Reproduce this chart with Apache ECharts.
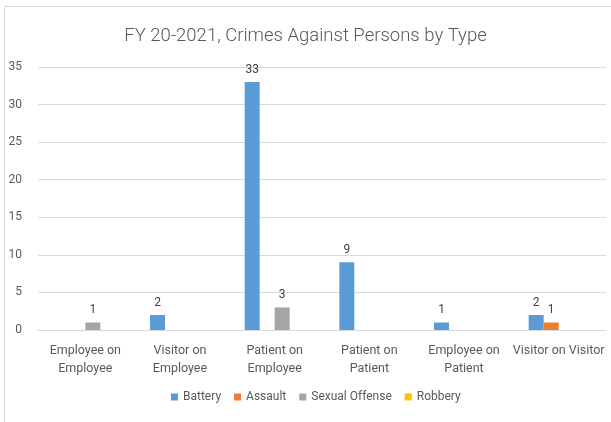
<!DOCTYPE html>
<html><head><meta charset="utf-8">
<script src="https://cdn.jsdelivr.net/npm/echarts@6/dist/echarts.min.js"></script>
<style>html,body{margin:0;padding:0;background:#fff}#c{width:611px;height:422px}</style>
</head><body><div id="c"></div>
<script>
const categories = ["Employee on\nEmployee", "Visitor on\nEmployee", "Patient on\nEmployee", "Patient on\nPatient", "Employee on\nPatient", "Visitor on Visitor"];
const seriesNames = ["Battery", "Assault", "Sexual Offense", "Robbery"];
const battery = [null, 2, 33, 9, 1, 2];
const assault = [null, null, null, null, null, 1];
const sexualOffense = [1, null, 3, null, null, null];
const robbery = [null, null, null, null, null, null];
const colors = ["#5b9bd5", "#ed7d31", "#a5a5a5", "#ffc000"];
const values = [battery, assault, sexualOffense, robbery];
const FONT = "Roboto, sans-serif";

const chart = echarts.init(document.getElementById('c'));
chart.setOption({
  animation: false,
  textStyle: { fontFamily: FONT },
  title: {
    text: "FY 20-2021, Crimes Against Persons by Type",
    left: 'center', top: 22,
    textStyle: { fontSize: 18.5, fontWeight: 300, color: '#595959', fontFamily: FONT }
  },
  graphic: [{
    type: 'polyline', shape: { points: [[4.5, 430], [4.5, 6.5], [620, 6.5]] },
    style: { stroke: '#d9d9d9', lineWidth: 1, fill: null }
  }],
  legend: {
    bottom: 14, left: 166, itemWidth: 7, itemHeight: 7, itemGap: 13,
    icon: 'rect',
    textStyle: { fontSize: 12, color: '#595959', fontFamily: FONT },
    data: seriesNames
  },
  grid: { left: 38, right: 5, top: 67, bottom: 92 },
  xAxis: {
    type: 'category', data: categories,
    axisLine: { lineStyle: { color: '#d9d9d9' } },
    axisTick: { show: false },
    axisLabel: { color: '#595959', fontSize: 12.5, lineHeight: 18, margin: 12, interval: 0, fontFamily: FONT }
  },
  yAxis: {
    type: 'value', min: 0, max: 35, interval: 5,
    axisLine: { show: false }, axisTick: { show: false },
    splitLine: { lineStyle: { color: '#d9d9d9' } },
    axisLabel: { color: '#595959', fontSize: 12, margin: 16, fontFamily: FONT }
  },
  series: seriesNames.map((n, i) => ({
    name: n, type: 'bar', data: values[i], barWidth: 15, barGap: '0%',
    itemStyle: { color: colors[i] },
    label: { show: true, position: 'top', distance: 6, color: '#404040', fontSize: 12, fontFamily: FONT }
  }))
});
</script></body></html>
